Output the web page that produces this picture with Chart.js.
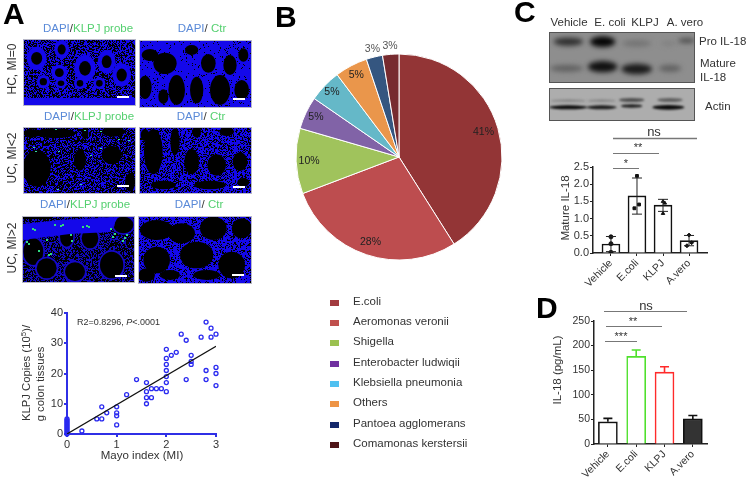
<!DOCTYPE html>
<html>
<head>
<meta charset="utf-8">
<title>IL-18 figure</title>
<script src="https://cdn.jsdelivr.net/npm/chart.js@4/dist/chart.umd.min.js"></script>
<style>
  html, body { margin: 0; padding: 0; background: #fff; overflow: hidden; }
  body { width: 747px; height: 480px; position: relative; font-family: "Liberation Sans", Arial, sans-serif; color: #333; filter: blur(0.3px); }
  canvas { position: absolute; }
  .t { position: absolute; white-space: nowrap; line-height: 1; }
  .blue { color: #5a8ad8; }
  .green { color: #55d070; }
</style>
</head>
<body>
<canvas id="bg" width="747" height="480" style="left:0;top:0"></canvas>
<canvas id="scatter" width="230" height="180" style="left:0;top:300px"></canvas>
<canvas id="pie" width="240" height="240" style="left:279px;top:37px"></canvas>
<canvas id="barC" width="217" height="145" style="left:530px;top:150px"></canvas>
<canvas id="barD" width="217" height="170" style="left:530px;top:310px"></canvas>
<script>
// panel A scatter
const mayoX = [0,0,0,0,0,0,0,0,0,0,0, 0.3,0.6,0.7,0.7,0.8,1,1,1,1,1.2,1.4,1.6,1.6,1.6,1.6,1.7,1.7,1.8,1.9,2,2,2,2,2,2,2,2.1,2.2,2.3,2.4,2.4,2.5,2.5,2.5,2.7,2.8,2.8,2.8,2.9,2.9,3,3,3,3];
const copiesY = [0,0.5,1,1.5,2,2.5,3,3.5,4,4.5,5, 1,5,5,9,7,3,6,7,9,13,18,10,12,14,17,12,15,15,15,14,17,19,21,23,25,28,26,27,33,18,31,23,24,26,32,18,21,37,32,35,16,20,22,33];
const fitX = [0, 3];
const fitY = [0, 29];

// panel B pie
const species = ["E.coli","Aeromonas veronii","Shigella","Enterobacter ludwiqii","Klebsiella pneumonia","Others","Pantoea agglomerans","Comamonas kerstersii"];
const speciesCounts = [16, 11, 4, 2, 2, 2, 1, 1];
const speciesPct = ["41%","28%","10%","5%","5%","5%","3%","3%"];

// panels C and D
const groups = ["Vehicle","E.coli","KLPJ","A.vero"];
const matureMean = [0.26, 1.66, 1.39, 0.36];
const matureLow = [0.04, 1.13, 1.21, 0.21];
const matureHigh = [0.48, 2.18, 1.56, 0.51];
const matureDotX = [0,0,0, 0,0.08,-0.1, 0,0.07,0, 0,0.1,-0.08];
const matureDotY = [0.47,0.27,0.02, 2.24,1.41,1.3, 1.5,1.45,1.15, 0.52,0.3,0.21];
const il18Mean = [45, 178, 146, 51];
const il18High = [52, 191, 157, 58];

const pieColors = ["#933536","#bd4d4f","#a0c35c","#8163a7","#65b8c8","#ea964b","#355680","#772b2f"];
const swatchColors = ["#a23b3f","#c0504d","#9bc150","#7030a0","#4fc0f0","#ee9445","#14286b","#4f1518"];
const labelRadius = [88,90,90,92,93,92,111,111];
const FONT = '"Liberation Sans", Arial, sans-serif';
const BLUE = "#2f2fe6";

Chart.defaults.font.family = FONT;
Chart.defaults.animation = false;
Chart.defaults.responsive = false;
Chart.defaults.plugins.legend.display = false;
Chart.defaults.plugins.tooltip.enabled = false;

// text goes through here, x/y is the centre unless left is set
function put(html, x, y, size, opt) {
  opt = opt || {};
  const d = document.createElement("div");
  d.className = "t";
  d.innerHTML = html;
  d.style.left = x + "px";
  d.style.top = y + "px";
  d.style.fontSize = size + "px";
  d.style.color = opt.color || "#333";
  if (opt.bold) d.style.fontWeight = "bold";
  const tx = opt.left ? "0" : "-50%";
  d.style.transform = "translate(" + tx + ",-50%)" + (opt.rot ? " rotate(" + opt.rot + "deg)" : "");
  document.body.appendChild(d);
}

// background: micrographs, blots, brackets
const bgCanvas = document.getElementById("bg");
const g = bgCanvas.getContext("2d");

// tissue grain, a fixed hash so the picture is the same every run
function texture(x, y, w, h, color, amount) {
  g.fillStyle = color;
  for (let i = 0; i < w; i++) for (let j = 0; j < h; j++) {
    const n = Math.sin((x + i) * 12.9898 + (y + j) * 78.233) * 43758.5453;
    if (n - Math.floor(n) < amount) g.fillRect(x + i, y + j, 1, 1);
  }
}
function blob(e, color) {
  g.fillStyle = color;
  g.beginPath();
  g.ellipse(e[0] / 3, e[1] / 3 + (e[4] || 0), e[2] / 3, e[3] / 3, 0, 0, Math.PI * 2);
  g.fill();
}
function panel(x, y, w, h, draw) {
  g.save();
  g.beginPath();
  g.rect(x, y, w, h);
  g.clip();
  draw();
  g.filter = "blur(0.5px)";
  g.drawImage(bgCanvas, x, y, w, h, x, y, w, h);
  g.filter = "none";
  g.restore();
  g.strokeStyle = "#b8b8c8";
  g.lineWidth = 1;
  g.strokeRect(x + 0.5, y + 0.5, w, h);
}
const DAPI = "#1408ea";

// HC, MI=0
panel(23, 39, 112, 66, () => {
  g.fillStyle = DAPI; g.fillRect(23, 39, 112, 66);
  texture(23, 39, 112, 66, "#000", 0.5);
  [[110,175,30,35],[185,148,22,28],[178,218,24,24],[130,245,20,20],[183,250,18,15],[255,205,32,40],[240,250,18,18],[298,250,18,18],[320,185,27,35],[365,225,28,35]].forEach(r => {
    blob(r, DAPI);
    blob([r[0], r[1], r[2] * 0.55, r[3] * 0.55], "#000");
  });
  g.fillStyle = DAPI; g.fillRect(23, 98, 112, 7);
});
panel(139, 40, 112, 67, () => {
  g.fillStyle = DAPI; g.fillRect(139, 40, 112, 67);
  [[495,190,35,32],[625,190,22,28],[450,165,25,18],[690,195,20,30],[435,262,20,35],[530,270,25,45],[590,270,20,40],[660,270,30,45],[725,270,22,30],[575,150,20,15],[490,290,15,22],[730,165,15,20]].forEach(r => blob(r, "#000"));
  texture(139, 40, 112, 67, "#000", 0.06);
});
// UC, MI<2
panel(23, 127, 112, 66, () => {
  g.fillStyle = DAPI; g.fillRect(23, 127, 112, 66);
  texture(23, 127, 112, 66, "#000", 0.55);
  [[110,190,42,55],[165,85,60,15],[240,165,18,32],[335,150,30,28],[340,80,35,15],[390,232,15,28],[95,85,25,12],[255,85,10,18]].forEach(r => blob([r[0], r[1], r[2], r[3], 105], "#000"));
  [[35,151],[55,129],[58,151],[84,130],[100,131],[118,139],[128,140],[90,155],[80,184],[57,189],[100,148],[33,147]].forEach(p => { g.fillStyle = "#38d8a0"; g.fillRect(p[0], p[1], 2, 1); });
});
panel(139, 127, 112, 66, () => {
  g.fillStyle = DAPI; g.fillRect(139, 127, 112, 66);
  texture(139, 127, 112, 66, "#000", 0.35);
  [[460,140,28,68],[525,110,14,40],[575,170,22,38],[650,180,28,32],[720,170,22,28],[590,80,13,18],[680,80,22,13],[490,240,38,13],[630,240,48,13],[730,232,18,13],[435,90,13,18]].forEach(r => blob([r[0], r[1], r[2], r[3], 105], "#000"));
});
// UC, MI>2
panel(22, 216, 112, 66, () => {
  g.fillStyle = "#000"; g.fillRect(22, 216, 112, 66);
  texture(22, 216, 112, 66, "#1008c0", 0.45);
  [[100,440,30,40],[140,490,30,30],[225,500,30,28],[335,480,35,40],[270,400,25,30],[370,360,30,25],[320,355,20,18],[200,395,20,30]].forEach(r => {
    blob([r[0], r[1], r[2] + 5, r[3] + 5, 105], "#1408c8");
    blob([r[0], r[1], r[2], r[3], 105], "#000");
  });
  g.fillStyle = DAPI;
  g.beginPath(); g.moveTo(22, 224); g.lineTo(60, 220); g.lineTo(100, 218); g.lineTo(118, 217);
  g.lineTo(110, 232); g.lineTo(70, 234); g.lineTo(22, 240); g.fill();
  g.fillStyle = "#000"; g.fillRect(22, 216, 30, 3);
  [[32,228],[34,229],[54,224],[60,225],[62,224],[82,226],[86,225],[88,226],[26,241],[28,243],[46,239],[70,234],[71,240],[110,228],[112,236],[114,233],[124,237],[126,234],[122,240],[48,254],[50,253],[38,250]].forEach(p => { g.fillStyle = "#30d880"; g.fillRect(p[0], p[1], 2, 2); });
});
panel(138, 216, 113, 67, () => {
  g.fillStyle = DAPI; g.fillRect(138, 216, 113, 67);
  texture(138, 216, 113, 67, "#000", 0.25);
  [[470,375,50,30],[545,385,40,30],[640,370,40,35],[725,370,30,30],[470,465,40,40],[590,450,50,40],[695,480,40,40],[440,510,25,20],[510,510,30,15],[620,510,40,15]].forEach(r => blob([r[0], r[1], r[2], r[3], 105], "#000"));
});
g.fillStyle = "#fff";
[[117,96],[233,98],[117,185],[233,186],[115,275],[232,274]].forEach(b => g.fillRect(b[0], b[1], 12, 2));

// western blots
function band(b, color) {
  g.fillStyle = color;
  g.beginPath();
  g.ellipse(530 + b[0] / 3, b[1] / 3, b[2] / 3, b[3] / 3, 0, 0, Math.PI * 2);
  g.fill();
}
g.fillStyle = "#8e8e8e"; g.fillRect(549, 32, 146, 51);
g.fillStyle = "#adadad"; g.fillRect(549, 88, 146, 32);
g.save();
g.beginPath(); g.rect(549, 32, 146, 88); g.clip();
g.filter = "blur(2.5px)";
[[115,125,44,12,"#2e2e2e"],[218,125,38,16,"#050505"],[320,130,44,10,"#747474"],[415,130,22,7,"#808080"],[470,122,26,7,"#4a4a4a"],
 [110,205,50,10,"#606060"],[218,200,44,17,"#101010"],[320,207,46,16,"#1a1a1a"],[420,205,34,10,"#606060"]].forEach(b => band(b, b[4]));
g.filter = "blur(1.2px)";
[[115,322,58,6,"#0a0a0a"],[215,322,45,6,"#1c1c1c"],[305,318,32,5,"#1c1c1c"],[415,322,48,7,"#0a0a0a"],
 [305,300,38,6,"#505050"],[420,300,38,6,"#606060"],[115,302,52,4,"#888"],[215,302,42,4,"#888"]].forEach(b => band(b, b[4]));
g.restore();
g.strokeStyle = "#555"; g.lineWidth = 1;
g.strokeRect(549.5, 32.5, 145, 50);
g.strokeRect(549.5, 88.5, 145, 32);

// significance brackets
g.strokeStyle = "#777";
[[613,697,138,1.5],[613,659,153,1],[613,639,168,1],[604,687,311,1],[606,662,326,1],[605,637,341,1]].forEach(l => {
  g.lineWidth = l[3];
  g.beginPath(); g.moveTo(l[0], l[2] + 0.5); g.lineTo(l[1], l[2] + 0.5); g.stroke();
});

// scatter
new Chart(document.getElementById("scatter"), {
  type: "scatter",
  data: { datasets: [
    { data: mayoX.map((x, i) => ({ x: x, y: copiesY[i] })), borderColor: "#2a2af0", backgroundColor: "transparent", borderWidth: 1.3, pointRadius: 2, clip: false, order: 1 },
    { data: fitX.map((x, i) => ({ x: x, y: fitY[i] })), showLine: true, borderColor: "#111", borderWidth: 1.2, pointRadius: 0, order: 0 }
  ] },
  options: {
    layout: { padding: { top: 13, right: 14 } },
    scales: {
      x: { type: "linear", min: 0, max: 3,
        afterFit: s => { s.height = 46; },
        afterBuildTicks: s => { s.ticks = [0,1,2,3].map(v => ({ value: v })); },
        border: { color: BLUE, width: 2 },
        grid: { drawOnChartArea: false, color: BLUE, lineWidth: 2, tickLength: 3 },
        ticks: { color: "#333", font: { size: 11 }, padding: 1, maxRotation: 0 } },
      y: { min: 0, max: 40,
        afterFit: s => { s.width = 67; },
        border: { color: BLUE, width: 2 },
        grid: { drawOnChartArea: false, color: BLUE, lineWidth: 2, tickLength: 3 },
        ticks: { stepSize: 10, color: "#333", font: { size: 11 }, padding: 1 } }
    }
  }
});

// pie
const pieLabels = {
  id: "pieLabels",
  afterDraw(chart) {
    const c = chart.ctx;
    c.save();
    c.font = "10.5px " + FONT;
    c.textAlign = "center";
    c.textBaseline = "middle";
    chart.getDatasetMeta(0).data.forEach((arc, i) => {
      const a = (arc.startAngle + arc.endAngle) / 2;
      c.fillStyle = i > 5 ? "#555" : "#222";
      c.fillText(speciesPct[i], arc.x + Math.cos(a) * labelRadius[i], arc.y + Math.sin(a) * labelRadius[i]);
    });
    c.restore();
  }
};
new Chart(document.getElementById("pie"), {
  type: "pie",
  data: { labels: species, datasets: [{ data: speciesCounts, backgroundColor: pieColors, borderColor: "#fff", borderWidth: 1, radius: 103 }] },
  options: { layout: { padding: 0 } },
  plugins: [pieLabels]
});

// error bars for the bar panels
const errorBars = {
  id: "errorBars",
  afterDatasetsDraw(chart, args, o) {
    const c = chart.ctx, xs = chart.scales.x, ys = chart.scales.y;
    c.save();
    c.lineWidth = o.width;
    o.high.forEach((h, i) => {
      const x = xs.getPixelForValue(i);
      const hi = ys.getPixelForValue(h), lo = ys.getPixelForValue(o.low[i]);
      c.strokeStyle = o.colors[i];
      c.beginPath();
      c.moveTo(x, hi); c.lineTo(x, lo);
      c.moveTo(x - o.cap, hi); c.lineTo(x + o.cap, hi);
      if (o.lowCap) { c.moveTo(x - o.cap, lo); c.lineTo(x + o.cap, lo); }
      c.stroke();
    });
    c.restore();
  }
};
function xAxis(min, max, h) {
  return { type: "linear", min: min, max: max, offset: false,
    afterFit: s => { s.height = h; },
    afterBuildTicks: s => { s.ticks = groups.map((n, i) => ({ value: i })); },
    border: { color: "#222", width: 1.5 },
    grid: { offset: false, drawOnChartArea: false, color: "#222", lineWidth: 1, tickLength: 3 },
    ticks: { autoSkip: false, minRotation: 45, maxRotation: 45, color: "#333", font: { size: 10.5 }, padding: 1, callback: v => groups[v] } };
}
function yAxis(max, step, digits, w, size) {
  return { min: 0, max: max,
    afterFit: s => { s.width = w; },
    border: { color: "#222", width: 1.5 },
    grid: { drawOnChartArea: false, color: "#222", lineWidth: 1, tickLength: 3 },
    ticks: { stepSize: step, color: "#333", font: { size: size }, padding: 1, callback: v => v.toFixed(digits) } };
}

new Chart(document.getElementById("barC"), {
  data: { datasets: [
    { type: "bar", data: matureMean.map((v, i) => ({ x: i, y: v })), barThickness: 18, backgroundColor: "#fff", borderColor: "#111", borderWidth: 1.6, order: 1 },
    { type: "scatter", data: matureDotX.map((d, i) => ({ x: Math.floor(i / 3) + d, y: matureDotY[i] })),
      pointStyle: matureDotX.map((d, i) => ["circle","rect","triangle","rectRot"][Math.floor(i / 3)]),
      backgroundColor: "#111", borderColor: "#111", pointRadius: 2, order: 0 }
  ] },
  options: {
    layout: { padding: { top: 17, right: 40 } },
    scales: { x: xAxis(-0.69, 3.69, 42), y: yAxis(2.5, 0.5, 1, 63, 11) },
    plugins: { errorBars: { high: matureHigh, low: matureLow, colors: groups.map(() => "#222"), width: 1, cap: 5, lowCap: true } }
  },
  plugins: [errorBars]
});

new Chart(document.getElementById("barD"), {
  data: { datasets: [
    { type: "bar", data: il18Mean.map((v, i) => ({ x: i, y: v })), barThickness: 19,
      backgroundColor: ["#fff","#fff","#fff","#333"],
      borderColor: ["#111","#4fe02c","#ff2a2a","#111"], borderWidth: 1.6 }
  ] },
  options: {
    layout: { padding: { top: 11, right: 40 } },
    scales: { x: xAxis(-0.49, 3.5, 36), y: yAxis(250, 50, 0, 64, 10.5) },
    plugins: { errorBars: { high: il18High, low: il18Mean, colors: ["#111","#4fe02c","#ff2a2a","#111"], width: 1.6, cap: 4.5, lowCap: false } }
  },
  plugins: [errorBars]
});

// panel letters
put("A", 3, 14, 30, { bold: true, left: true, color: "#000" });
put("B", 275, 17, 30, { bold: true, left: true, color: "#000" });
put("C", 514, 12, 30, { bold: true, left: true, color: "#000" });
put("D", 536, 308, 30, { bold: true, left: true, color: "#000" });

// panel A text
const probe = '<span class="blue">DAPI</span>/<span class="green">KLPJ probe</span>';
const ctr = '<span class="blue">DAPI</span>/ <span class="green">Ctr</span>';
put(probe, 88, 29, 11.5); put(ctr, 202, 29, 11.5);
put(probe, 89, 117, 11.5); put(ctr, 201, 117, 11.5);
put(probe, 85, 205, 11.5); put(ctr, 199, 205, 11.5);
put("HC, MI=0", 12, 69, 12, { rot: -90 });
put("UC, MI&lt;2", 12, 158, 12, { rot: -90 });
put("UC, MI&gt;2", 12, 248, 12, { rot: -90 });
put("KLPJ Copies (10<sup style='font-size:8px;line-height:0'>5</sup>)/", 27, 373, 11.3, { rot: -90 });
put("g colon tissues", 41, 384, 11.3, { rot: -90 });
put("Mayo index (MI)", 142, 456, 11.5);
put("R2=0.8296, <i>P</i>&lt;.0001", 77, 322, 9, { left: true });

// legend of panel B
const legendY = [302, 322, 342, 363, 383, 403, 424, 444];
species.forEach((name, i) => {
  g.fillStyle = swatchColors[i];
  g.fillRect(330, legendY[i] - 2, 9, 6);
  put(name, 353, legendY[i], 11.5, { left: true });
});

// panel C text
put("Vehicle", 569, 23, 11.5); put("E. coli", 610, 23, 11.5);
put("KLPJ", 645, 23, 11.5); put("A. vero", 685, 23, 11.5);
put("Pro IL-18", 699, 42, 11.5, { left: true });
put("Mature", 700, 64, 11.5, { left: true });
put("IL-18", 700, 78, 11.5, { left: true });
put("Actin", 705, 107, 11.5, { left: true });
put("Mature IL-18", 566, 208, 11.5, { rot: -90 });
put("ns", 654, 131, 13);
put("**", 638, 147, 11);
put("*", 626, 163, 11);

// panel D text
put("IL-18 (pg/mL)", 558, 370, 11.5, { rot: -90 });
put("ns", 646, 305, 13);
put("**", 633, 321, 11);
put("***", 621, 336, 11);
</script>
</body>
</html>
